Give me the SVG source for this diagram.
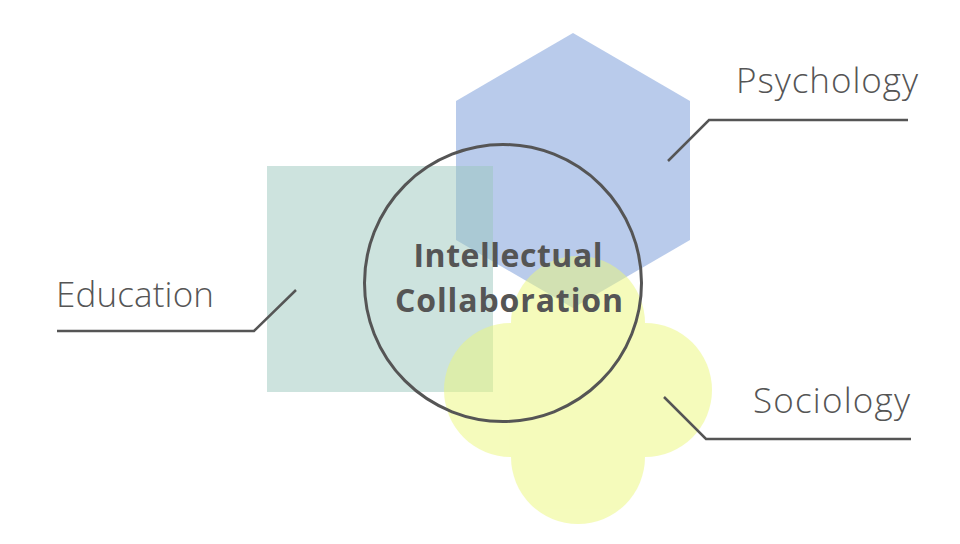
<svg xmlns="http://www.w3.org/2000/svg" width="960" height="544" viewBox="0 0 960 544">
<style>
.lbl{font-family:"Open Sans","Noto Sans",sans-serif;font-weight:300;font-size:35px;fill:#555}
.ttl{font-family:"Open Sans","DejaVu Sans",sans-serif;font-weight:700;font-size:32px;fill:#555;text-anchor:middle}
.ld{fill:none;stroke:#555;stroke-width:2.5}
</style>
<rect width="960" height="544" fill="#fff"/>
<g id="psychology">
<polygon points="573,33 690,101 690,240 573,308 456,240 456,101" fill="#8aa9de" opacity="0.6"/>
<text class="lbl" x="736" y="93" textLength="182" lengthAdjust="spacing">Psychology</text>
</g>
<g id="education">
<rect x="267" y="166" width="226" height="226" fill="#9bc7bd" opacity="0.5"/>
<text class="lbl" x="56" y="307" textLength="158" lengthAdjust="spacing">Education</text>
</g>
<g id="sociology">
<g opacity="0.5" fill="#ecf87a">
<circle cx="511" cy="390" r="67"/>
<circle cx="645" cy="390" r="67"/>
<circle cx="578" cy="323" r="67"/>
<circle cx="578" cy="457" r="67"/>
<rect x="520" y="332" width="116" height="116"/>
</g>
<text class="lbl" x="753" y="413" textLength="157" lengthAdjust="spacing">Sociology</text>
</g>
<g id="collaboration">
<circle cx="503" cy="283" r="138.5" fill="none" stroke="#555" stroke-width="3"/>
<text class="ttl" x="508" y="267" textLength="189" lengthAdjust="spacing">Intellectual</text>
<text class="ttl" x="509" y="312" textLength="228" lengthAdjust="spacing">Collaboration</text>
</g>
<g id="connectors">
<polyline class="ld" points="668,161 709,120 908,120"/>
<polyline class="ld" points="296,290 254,331 57,331"/>
<polyline class="ld" points="664,397 706,439 911,439"/>
</g>
</svg>
